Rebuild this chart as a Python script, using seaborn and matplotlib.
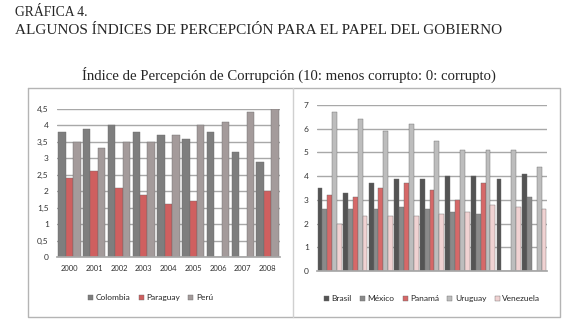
"""
Gráfica 4: índice de percepción de corrupción
"""

import numpy as np
import pandas as pd
import seaborn as sns
import matplotlib.pyplot as plt

# left panel
years = ['2000', '2001', '2002', '2003', '2004', '2005', '2006', '2007', '2008']
colombia = [3.8, 3.9, 4.0, 3.8, 3.7, 3.6, 3.8, 3.2, 2.9]
paraguay = [2.4, 2.6, 2.1, 1.9, 1.6, 1.7, 0.0, 0.0, 2.0]
peru = [3.5, 3.3, 3.5, 3.5, 3.7, 4.0, 4.1, 4.4, 4.5]
left_countries = ['Colombia', 'Paraguay', 'Perú']
left_ticks = ['0', '0,5', '1', '1,5', '2', '2,5', '3', '3,5', '4', '4,5']

# right panel
brasil = [3.5, 3.3, 3.7, 3.9, 3.9, 4.0, 4.0, 3.9, 4.1]
mexico = [2.6, 2.6, 2.6, 2.7, 2.6, 2.5, 2.4, 0.0, 3.1]
panama = [3.2, 3.1, 3.5, 3.7, 3.4, 3.0, 3.7, 0.0, 0.0]
uruguay = [6.7, 6.4, 5.9, 6.2, 5.5, 5.1, 5.1, 5.1, 4.4]
venezuela = [2.0, 2.3, 2.3, 2.3, 2.4, 2.5, 2.8, 2.7, 2.6]
right_countries = ['Brasil', 'México', 'Panamá', 'Uruguay', 'Venezuela']

left_df = pd.DataFrame({'year': years * 3,
                        'pais': np.repeat(left_countries, len(years)),
                        'valor': colombia + paraguay + peru})
right_df = pd.DataFrame({'year': years * 5,
                         'pais': np.repeat(right_countries, len(years)),
                         'valor': brasil + mexico + panama + uruguay + venezuela})

left_colors = ['#7e7e7e', '#cf5f5f', '#a49b9b']
right_colors = ['#545454', '#8a8a8a', '#d66868', '#bdbdbd', '#f0d2d2']

sns.set_theme(style='white')
plt.rcParams['font.family'] = ['Lato', 'DejaVu Sans']

W, H = 575, 331
fig = plt.figure(figsize=(W / 100, H / 100), dpi=100)


def px_axes(x0, y_top, x1, y_bot):
    return fig.add_axes([x0 / W, 1 - y_bot / H, (x1 - x0) / W, (y_bot - y_top) / H])


serif = ['Liberation Serif', 'DejaVu Serif']
fig.text(15 / W, 1 - 13 / H, 'GRÁFICA 4.', family=serif, fontsize=9.8, va='center', ha='left')
fig.text(15 / W, 1 - 31 / H, 'ALGUNOS ÍNDICES DE PERCEPCIÓN PARA EL PAPEL DEL GOBIERNO',
         family=serif, fontsize=11, va='center', ha='left')
fig.text(289 / W, 1 - 75 / H, 'Índice de Percepción de Corrupción (10: menos corrupto: 0: corrupto)',
         family=serif, fontsize=10.6, va='center', ha='center')

# outer frame
frame = fig.add_axes([0, 0, 1, 1], zorder=-1)
frame.set_xlim(0, W)
frame.set_ylim(H, 0)
frame.axis('off')
frame.plot([28, 560, 560, 28, 28], [88, 88, 317, 317, 88], color='#b4b4b4', lw=1)
frame.plot([293, 293], [88, 317], color='#d0d0d0', lw=1)


def style_axes(ax, ymax, step, ticklabels):
    ax.set_ylim(0, ymax)
    ax.set_yticks(np.arange(0, ymax + 0.01, step))
    ax.set_yticklabels(ticklabels, fontsize=6, color='#333333')
    ax.yaxis.grid(True, color='#a8a8a8', lw=1)
    ax.set_axisbelow(True)
    for s in ax.spines.values():
        s.set_visible(False)
    ax.spines['bottom'].set_visible(True)
    ax.spines['bottom'].set_color('#a8a8a8')
    ax.tick_params(axis='both', length=0, pad=6)
    ax.set_xlabel('')
    ax.set_ylabel('')


ax1 = px_axes(57, 109, 280, 257)
sns.barplot(data=left_df, x='year', y='valor', hue='pais', palette=left_colors,
            width=0.9, saturation=1, edgecolor='#6a6a6a', linewidth=0.3, ax=ax1)
style_axes(ax1, 4.5, 0.5, left_ticks)
ax1.set_xticklabels(years, fontsize=5.5, color='#333333')
ax1.legend(loc='upper center', bbox_to_anchor=(0.42, -0.2), ncol=3, frameon=False,
           fontsize=6, handlelength=0.6, handleheight=0.6, handletextpad=0.3,
           columnspacing=1.0)

ax2 = px_axes(317, 105, 547, 271)
sns.barplot(data=right_df, x='year', y='valor', hue='pais', palette=right_colors,
            width=0.95, saturation=1, edgecolor='#6a6a6a', linewidth=0.3, ax=ax2)
style_axes(ax2, 7, 1, [str(i) for i in range(8)])
ax2.set_xticklabels([])
ax2.legend(loc='upper center', bbox_to_anchor=(0.5, -0.1), ncol=5, frameon=False,
           fontsize=6, handlelength=0.6, handleheight=0.6, handletextpad=0.3,
           columnspacing=1.0)

fig.savefig('out.png', dpi=100)
